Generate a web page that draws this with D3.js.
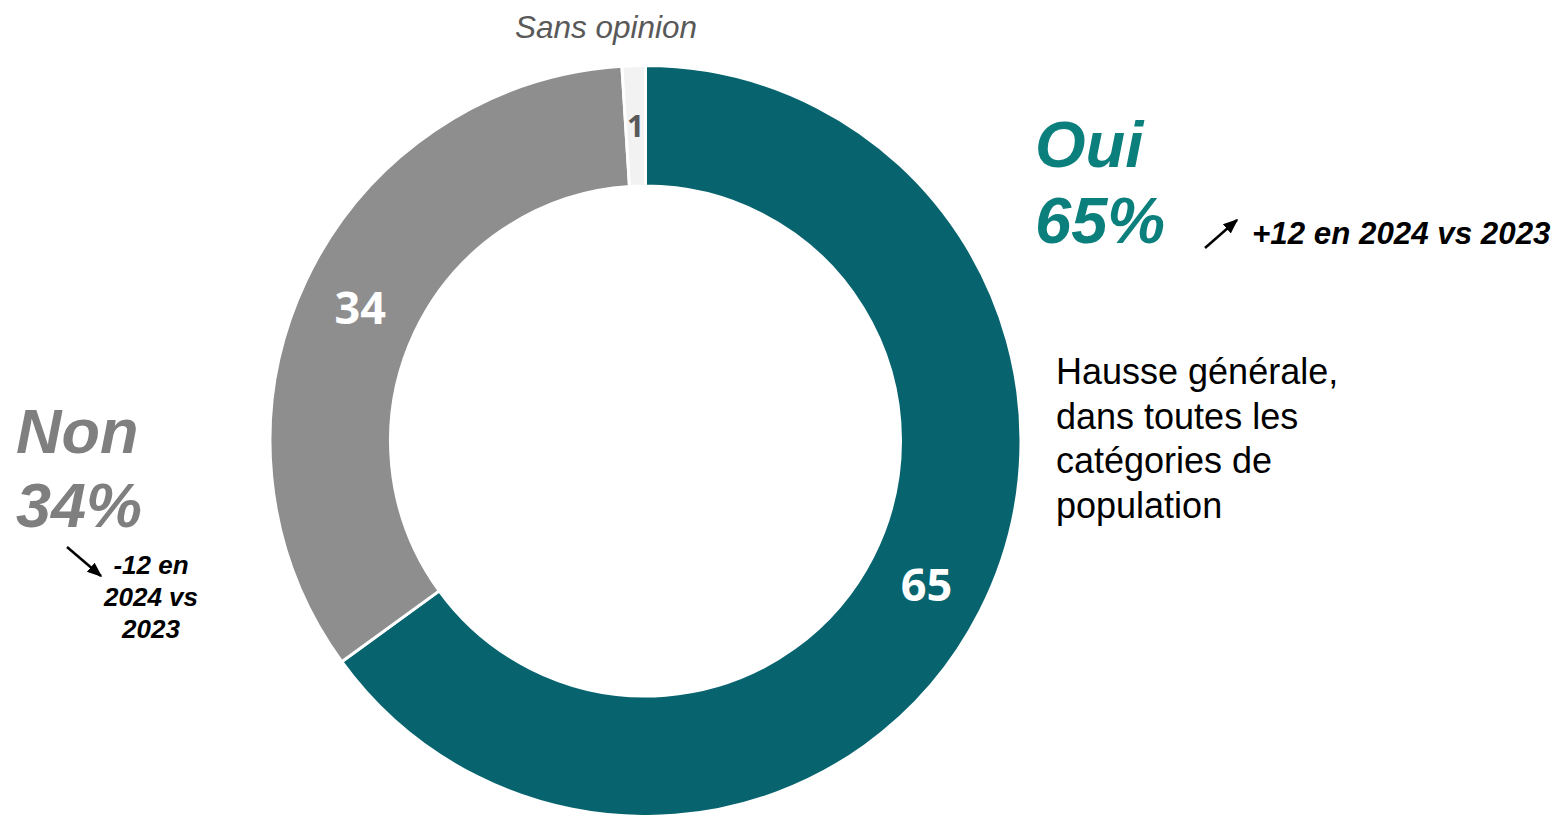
<!DOCTYPE html>
<html>
<head>
<meta charset="utf-8">
<script src="https://cdn.jsdelivr.net/npm/d3@7"></script>
<style>
  html, body { margin: 0; padding: 0; background: #ffffff; }
  svg { display: block; }
</style>
</head>
<body>
<svg id="chart" width="1562" height="815"></svg>
<script>
// ---- data ----
const categories = ["Oui", "Non", "Sans opinion"];
const values = [65, 34, 1];
const sliceColors = ["#07646F", "#8E8E8E", "#F2F2F2"];
const labelColors = ["#ffffff", "#ffffff", "#595959"];
const changes = ["+12 en 2024 vs 2023", "-12 en 2024 vs 2023"];
const noteLines = ["Hausse générale,", "dans toutes les", "catégories de", "population"];

const svg = d3.select("#chart");
const cx = 645.5, cy = 441;
const outerR = 375.5, innerR = 255;

const pie = d3.pie().sort(null).value(d => d.value);
const arcs = pie(categories.map((c, i) => ({ cat: c, value: values[i], i })));
const arc = d3.arc().innerRadius(innerR).outerRadius(outerR);
const labelArc = d3.arc().innerRadius((innerR + outerR) / 2).outerRadius((innerR + outerR) / 2);

const g = svg.append("g").attr("transform", `translate(${cx},${cy})`);
g.selectAll("path.slice").data(arcs).enter().append("path")
  .attr("class", "slice")
  .attr("d", arc)
  .attr("fill", d => sliceColors[d.data.i])
  .attr("stroke", "#ffffff")
  .attr("stroke-width", 3)
  .attr("stroke-linejoin", "miter");

g.selectAll("text.val").data(arcs).enter().append("text")
  .attr("class", "val")
  .attr("transform", d => `translate(${labelArc.centroid(d)})`)
  .attr("text-anchor", "middle")
  .attr("dy", d => d.data.i === 2 ? "0.36em" : "0.38em")
  .attr("font-family", "'Open Sans', sans-serif")
  .attr("font-weight", 700)
  .attr("font-size", d => d.data.i === 2 ? 30 : 45)
  .attr("fill", d => labelColors[d.data.i])
  .text(d => d.data.value);

// ---- annotations ----
const defs = svg.append("defs");
defs.append("marker").attr("id", "arrow")
  .attr("viewBox", "0 0 10 10").attr("refX", 9).attr("refY", 5)
  .attr("markerWidth", 6).attr("markerHeight", 6)
  .attr("markerUnits", "strokeWidth")
  .attr("orient", "auto")
  .append("path").attr("d", "M0,1 L10,5 L0,9 Z").attr("fill", "#000");

const bi = "'Liberation Sans', Arial, sans-serif";

// Sans opinion
svg.append("text").attr("x", 606).attr("y", 38)
  .attr("text-anchor", "middle")
  .attr("font-family", bi).attr("font-style", "italic")
  .attr("font-size", 31.5).attr("fill", "#595959")
  .text(categories[2]);

// Oui
svg.append("text").attr("x", 1035).attr("y", 167)
  .attr("font-family", bi).attr("font-style", "italic").attr("font-weight", 700)
  .attr("font-size", 65).attr("fill", "#0B7F7C")
  .text(categories[0]);
svg.append("text").attr("x", 1035).attr("y", 243)
  .attr("font-family", bi).attr("font-style", "italic").attr("font-weight", 700)
  .attr("font-size", 65).attr("fill", "#0B7F7C")
  .text(values[0] + "%");
svg.append("line").attr("x1", 1205).attr("y1", 248).attr("x2", 1237).attr("y2", 220)
  .attr("stroke", "#000").attr("stroke-width", 2.5).attr("marker-end", "url(#arrow)");
svg.append("text").attr("x", 1252).attr("y", 244)
  .attr("font-family", bi).attr("font-style", "italic").attr("font-weight", 700)
  .attr("font-size", 31.3).attr("fill", "#000")
  .text(changes[0]);

// Non
svg.append("text").attr("x", 16).attr("y", 453)
  .attr("font-family", bi).attr("font-style", "italic").attr("font-weight", 700)
  .attr("font-size", 63).attr("fill", "#7F7F7F")
  .text(categories[1]);
svg.append("text").attr("x", 16).attr("y", 527)
  .attr("font-family", bi).attr("font-style", "italic").attr("font-weight", 700)
  .attr("font-size", 63).attr("fill", "#7F7F7F")
  .text(values[1] + "%");
svg.append("line").attr("x1", 67).attr("y1", 547).attr("x2", 101).attr("y2", 576)
  .attr("stroke", "#000").attr("stroke-width", 2.5).attr("marker-end", "url(#arrow)");
const nonChange = ["-12 en", "2024 vs", "2023"];
svg.append("text")
  .attr("text-anchor", "middle")
  .attr("font-family", bi).attr("font-style", "italic").attr("font-weight", 700)
  .attr("font-size", 26).attr("fill", "#000")
  .selectAll("tspan").data(nonChange).enter().append("tspan")
  .attr("x", 151).attr("y", (d, i) => 574 + i * 32)
  .text(d => d);

// note
svg.append("text")
  .attr("font-family", bi).attr("font-size", 36).attr("fill", "#000")
  .selectAll("tspan").data(noteLines).enter().append("tspan")
  .attr("x", 1056).attr("y", (d, i) => 384 + i * 44.5)
  .text(d => d);
</script>
</body>
</html>
